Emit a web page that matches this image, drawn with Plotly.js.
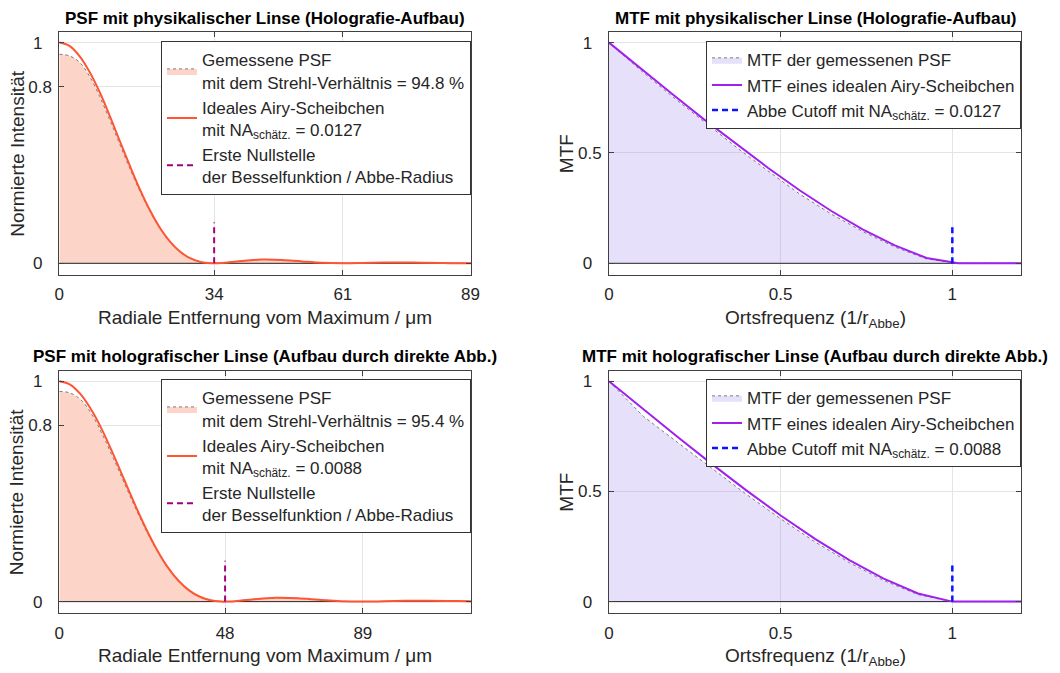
<!DOCTYPE html>
<html>
<head>
<meta charset="utf-8">
<script src="https://cdn.plot.ly/plotly-3.0.1.min.js"></script>
<style>
  html, body { margin: 0; padding: 0; background: #ffffff; }
  #chart { width: 1060px; height: 673px; }
</style>
</head>
<body>
<div id="chart"></div>
<script>
// ---- Radial PSF, physical lens (holography setup), radius in µm ----
const psfTopX = [0, 2.19, 4.38, 6.57, 8.76, 10.95, 13.13, 15.32, 17.51, 19.70, 21.89, 24.08, 26.27, 28.46, 30.65, 32.84, 33.55,
                 35.02, 39.40, 43.78, 48.16, 52.54, 56.91, 61.29, 65.67, 70.05, 74.43, 78.80, 83.18, 87.56, 89.2];
const psfTopIdeal = [1, 0.985, 0.939, 0.867, 0.775, 0.667, 0.553, 0.440, 0.333, 0.238, 0.158, 0.096, 0.051, 0.022, 0.006, 0.0003, 0,
                     0.001, 0.0106, 0.0172, 0.0154, 0.0085, 0.0022, 0, 0.0013, 0.0034, 0.0041, 0.003, 0.0012, 0.0001, 0];
const psfTopMeas = [0.947, 0.940, 0.911, 0.847, 0.755, 0.649, 0.538, 0.428, 0.325, 0.233, 0.155, 0.094, 0.050, 0.021, 0.006, 0.0003, 0,
                    0.001, 0.0104, 0.0170, 0.0152, 0.0084, 0.0022, 0, 0.0013, 0.0033, 0.0040, 0.003, 0.0012, 0.0001, 0];

// ---- Radial PSF, holographic lens (direct imaging setup) ----
const psfBotX = [0, 3.16, 6.32, 9.47, 12.63, 15.79, 18.95, 22.10, 25.26, 28.42, 31.58, 34.74, 37.89, 41.05, 44.21, 47.37, 48.40,
                 50.52, 56.84, 63.16, 69.47, 75.79, 82.10, 88.42, 94.73, 101.05, 107.36, 113.68, 120.0, 120.2];
const psfBotIdeal = [1, 0.985, 0.939, 0.867, 0.775, 0.667, 0.553, 0.440, 0.333, 0.238, 0.158, 0.096, 0.051, 0.022, 0.006, 0.0003, 0,
                     0.001, 0.0106, 0.0172, 0.0154, 0.0085, 0.0022, 0, 0.0013, 0.0034, 0.0041, 0.003, 0.0012, 0.0011];
const psfBotMeas = [0.954, 0.947, 0.916, 0.850, 0.757, 0.650, 0.539, 0.429, 0.326, 0.234, 0.155, 0.094, 0.050, 0.021, 0.006, 0.0003, 0,
                    0.001, 0.0104, 0.0170, 0.0152, 0.0084, 0.0022, 0, 0.0013, 0.0033, 0.0040, 0.003, 0.0012, 0.0011];

// ---- MTF curves, spatial frequency in 1/r_Abbe ----
const mtfTopX = [0, 0.0925, 0.185, 0.2775, 0.37, 0.4625, 0.555, 0.6475, 0.74, 0.8325, 0.925, 1.0175, 1.11, 1.2];
const mtfTopIdeal = [1, 0.882, 0.766, 0.651, 0.540, 0.433, 0.331, 0.237, 0.153, 0.081, 0.024, 0, 0, 0];
const mtfTopMeas  = [1, 0.874, 0.755, 0.640, 0.527, 0.419, 0.314, 0.223, 0.143, 0.074, 0.020, 0, 0, 0];

const mtfBotX = [0, 0.1, 0.2, 0.3, 0.4, 0.5, 0.6, 0.7, 0.8, 0.9, 1.0, 1.1, 1.2];
const mtfBotIdeal = [1, 0.873, 0.747, 0.624, 0.505, 0.391, 0.285, 0.188, 0.104, 0.037, 0, 0, 0];
const mtfBotMeas  = [1, 0.841, 0.722, 0.603, 0.487, 0.376, 0.271, 0.177, 0.096, 0.032, 0, 0, 0];

// ---- Characteristic values ----
const strehl = [94.8, 95.4];            // %
const naEst = ['0.0127', '0.0088'];
const firstZero = [33.55, 48.40];       // µm, Abbe radius
const zeroMarkHeight = [0.185, 0.185];
const cutoffFreq = 1;
const cutoffMarkHeight = 0.18;

// ---- Tick positions / labels ----
const psfTopTickVals = [0, 33.55, 61.43, 89.08];
const psfTopTickText = ['0', '34', '61', '89'];
const psfBotTickVals = [0, 48.40, 88.62];
const psfBotTickText = ['0', '48', '89'];
const psfYTickVals = [0, 0.8, 1];
const psfYTickText = ['0', '0.8', '1'];
const mtfTickVals = [0, 0.5, 1];
const mtfTickText = ['0', '0.5', '1'];

const titles = [
  'PSF mit physikalischer Linse (Holografie-Aufbau)',
  'MTF mit physikalischer Linse (Holografie-Aufbau)',
  'PSF mit holografischer Linse (Aufbau durch direkte Abb.)',
  'MTF mit holografischer Linse (Aufbau durch direkte Abb.)'
];

const FONT = 'Liberation Sans, Arial, Helvetica, sans-serif';
const TXT = '#262626';
const NB = '\u00a0';
const padInt = arr => arr.map(s => s.indexOf('.') < 0 ? s + NB + NB : s);

const colPsfFill = 'rgb(252,213,200)';
const colPsfLine = '#ff5533';
const colZero = '#a3007a';
const colMtfFill = 'rgba(160,130,240,0.25)';
const colMtfLine = '#a020f0';
const colCut = '#0a14ff';
const colEdge = 'rgb(125,125,125)';

function psfTraces(X, meas, ideal, i, xa, ya, lg) {
  return [
    { x: X, y: meas, type: 'scatter', mode: 'lines', xaxis: xa, yaxis: ya, legend: lg,
      fill: 'tozeroy', fillcolor: colPsfFill,
      line: { shape: 'spline', color: colEdge, width: 1, dash: 'dot' },
      name: 'Gemessene PSF<br>mit dem Strehl-Verhältnis = ' + strehl[i].toFixed(1) + ' %' },
    { x: [X[0], X[X.length - 1]], y: [0, 0], type: 'scatter', mode: 'lines', xaxis: xa, yaxis: ya,
      line: { color: TXT, width: 1 }, showlegend: false, hoverinfo: 'skip' },
    { x: X, y: ideal, type: 'scatter', mode: 'lines', xaxis: xa, yaxis: ya, legend: lg,
      line: { shape: 'spline', color: colPsfLine, width: 2 },
      name: 'Ideales Airy-Scheibchen<br>mit NA<sub>schätz.</sub> = ' + naEst[i] },
    { x: [firstZero[i], firstZero[i]], y: [0, zeroMarkHeight[i]], type: 'scatter', mode: 'lines',
      xaxis: xa, yaxis: ya, legend: lg,
      line: { color: colZero, width: 2, dash: '6px,4px' },
      name: 'Erste Nullstelle<br>der Besselfunktion / Abbe-Radius' }
  ];
}

function mtfTraces(X, meas, ideal, i, xa, ya, lg) {
  return [
    { x: X, y: meas, type: 'scatter', mode: 'lines', xaxis: xa, yaxis: ya, legend: lg,
      fill: 'tozeroy', fillcolor: colMtfFill,
      line: { color: colEdge, width: 1, dash: 'dot' },
      name: 'MTF der gemessenen PSF' },
    { x: [X[0], X[X.length - 1]], y: [0, 0], type: 'scatter', mode: 'lines', xaxis: xa, yaxis: ya,
      line: { color: TXT, width: 1 }, showlegend: false, hoverinfo: 'skip' },
    { x: X, y: ideal, type: 'scatter', mode: 'lines', xaxis: xa, yaxis: ya, legend: lg,
      line: { color: colMtfLine, width: 2 },
      name: 'MTF eines idealen Airy-Scheibchen' },
    { x: [cutoffFreq, cutoffFreq], y: [0, cutoffMarkHeight], type: 'scatter', mode: 'lines',
      xaxis: xa, yaxis: ya, legend: lg,
      line: { color: colCut, width: 2.5, dash: '6px,4px' },
      name: 'Abbe Cutoff mit NA<sub>schätz.</sub> = ' + naEst[i] }
  ];
}

const data = [].concat(
  psfTraces(psfTopX, psfTopMeas, psfTopIdeal, 0, 'x', 'y', 'legend'),
  mtfTraces(mtfTopX, mtfTopMeas, mtfTopIdeal, 0, 'x2', 'y2', 'legend2'),
  psfTraces(psfBotX, psfBotMeas, psfBotIdeal, 1, 'x3', 'y3', 'legend3'),
  mtfTraces(mtfBotX, mtfBotMeas, mtfBotIdeal, 1, 'x4', 'y4', 'legend4')
);

// panel geometry in paper fractions
const colL = [59.3 / 1060, 471 / 1060];
const colR = [609 / 1060, 1021 / 1060];
const rowT = [398 / 673, 641 / 673];
const rowB = [59.7 / 673, 302.3 / 673];

const axBase = {
  showline: true, mirror: 'ticks', linecolor: '#404040', linewidth: 1,
  ticks: 'inside', ticklen: 5, tickcolor: '#404040', tickwidth: 1,
  showgrid: true, gridcolor: '#e4e4e4', gridwidth: 1, zeroline: false,
  tickfont: { family: FONT, size: 17, color: TXT }, tickmode: 'array', fixedrange: true
};
function xax(domain, range, vals, text, anchor) {
  return Object.assign({}, axBase, { domain, range, tickvals: vals, ticktext: text, anchor, ticklabelstandoff: 4 });
}
function yax(domain, vals, text, anchor) {
  return Object.assign({}, axBase, { domain, range: [-0.053, 1.048], tickvals: vals, ticktext: padInt(text), anchor, ticklabelstandoff: 3 });
}

function legendAt(xpx, ypx) {
  return {
    x: xpx / 1060, y: 1 - ypx / 673, xanchor: 'left', yanchor: 'top',
    bgcolor: '#ffffff', bordercolor: '#333333', borderwidth: 1,
    font: { family: FONT, size: 17, color: TXT }, tracegroupgap: 0
  };
}

const annFont = { family: FONT, size: 19, color: TXT };
const ann = [];
// panel titles
[[colL, 18.3], [colR, 18.3], [colL, 356.7], [colR, 356.7]].forEach((p, k) => {
  ann.push({ text: '<b>' + titles[k] + '</b>', xref: 'paper', yref: 'paper',
    x: (p[0][0] + p[0][1]) / 2, y: 1 - p[1] / 673, xanchor: 'center', yanchor: 'middle',
    showarrow: false, font: { family: FONT, size: 17, color: '#000000' } });
});
// x-axis titles
const xTitles = ['Radiale Entfernung vom Maximum / μm', 'Ortsfrequenz (1/r<sub>Abbe</sub>)'];
[[colL, 316.7, 0], [colR, 316.7, 1], [colL, 655, 0], [colR, 655, 1]].forEach(p => {
  ann.push({ text: xTitles[p[2]], xref: 'paper', yref: 'paper',
    x: (p[0][0] + p[0][1]) / 2, y: 1 - (p[1] - 12) / 673, xanchor: 'center', yanchor: 'top',
    showarrow: false, font: annFont });
});
// y-axis titles
const yTitles = ['Normierte Intensität', 'MTF'];
[[17.3, 153.5, 0], [566.7, 153.5, 1], [17.3, 492, 0], [566.7, 492, 1]].forEach(p => {
  ann.push({ text: yTitles[p[2]], xref: 'paper', yref: 'paper',
    x: p[0] / 1060, y: 1 - p[1] / 673, xanchor: 'center', yanchor: 'middle', textangle: -90,
    showarrow: false, font: annFont });
});

const layout = {
  width: 1060, height: 673,
  margin: { l: 0, r: 0, t: 0, b: 0 },
  paper_bgcolor: '#ffffff', plot_bgcolor: '#ffffff',
  font: { family: FONT, size: 17, color: TXT },
  hovermode: false,
  xaxis:  xax(colL, [0, 89.2], psfTopTickVals, psfTopTickText, 'y'),
  yaxis:  yax(rowT, psfYTickVals, psfYTickText, 'x'),
  xaxis2: xax(colR, [0, 1.2], mtfTickVals, mtfTickText, 'y2'),
  yaxis2: yax(rowT, mtfTickVals, mtfTickText, 'x2'),
  xaxis3: xax(colL, [0, 120.2], psfBotTickVals, psfBotTickText, 'y3'),
  yaxis3: yax(rowB, psfYTickVals, psfYTickText, 'x3'),
  xaxis4: xax(colR, [0, 1.2], mtfTickVals, mtfTickText, 'y4'),
  yaxis4: yax(rowB, mtfTickVals, mtfTickText, 'x4'),
  legend:  legendAt(161, 41.3),
  legend2: legendAt(706, 41.3),
  legend3: legendAt(161, 379.3),
  legend4: legendAt(706, 379.3),
  annotations: ann,
  showlegend: true
};

Plotly.newPlot('chart', data, layout, { displayModeBar: false, staticPlot: true });
</script>
</body>
</html>
